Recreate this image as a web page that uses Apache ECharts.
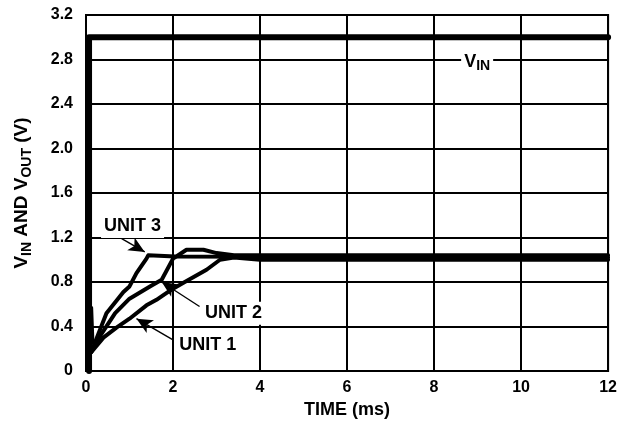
<!DOCTYPE html>
<html>
<head>
<meta charset="utf-8">
<script src="https://cdn.jsdelivr.net/npm/echarts@6/dist/echarts.min.js"></script>
<style>html,body{margin:0;padding:0;background:#fff}#c{width:620px;height:425px}</style>
</head>
<body>
<div id="c"></div>
<script>
// ---- data (time ms, volts) ----
const xTicks = [0, 2, 4, 6, 8, 10, 12];
const yTicks = [0, 0.4, 0.8, 1.2, 1.6, 2.0, 2.4, 2.8, 3.2];
const vin   = [[0.07, 0], [0.07, 3.0], [12, 3.0]];
const spike = [[0.1, 0.17], [0.13, 0.57], [0.16, 0.25]];
const unit1 = [[0.12, 0.17], [0.4, 0.3], [0.7, 0.39], [1.0, 0.47], [1.39, 0.59], [1.62, 0.64], [1.77, 0.68], [2.0, 0.74], [2.23, 0.79], [2.77, 0.91], [3.08, 1.0], [3.4, 1.02], [4.0, 1.0], [12, 1.0]];
const unit2 = [[0.12, 0.17], [0.3, 0.3], [0.67, 0.52], [1.0, 0.65], [1.47, 0.76], [1.74, 0.82], [2.0, 1.01], [2.31, 1.09], [2.7, 1.09], [3.0, 1.06], [3.4, 1.04], [12, 1.04]];
const unit3 = [[0.12, 0.17], [0.25, 0.3], [0.47, 0.52], [0.86, 0.71], [1.0, 0.76], [1.16, 0.88], [1.39, 1.01], [1.43, 1.04], [2.05, 1.03], [12, 1.02]];
// annotation labels: [text, x, y] and arrows: [fromX, fromY, toX, toY]
const labels = [['{n|UNIT 3}', 1.07, 1.30], ['{n|UNIT 2}', 3.39, 0.52], ['{n|UNIT 1}', 2.8, 0.23], ['{n|V}{s|IN}', 8.99, 2.78]];
const arrows = [[0.82, 1.19, 1.35, 1.07], [2.61, 0.58, 1.74, 0.80], [2.0, 0.28, 1.16, 0.47]];

const FONT = 'Liberation Sans, Arial, sans-serif';
const chart = echarts.init(document.getElementById('c'));
function line(data, w) {
  return { type: 'line', data: data, symbol: 'none', silent: true,
    lineStyle: { color: '#000', width: w, join: 'round', cap: 'round' } };
}
const richT = {
  n: { fontFamily: FONT, fontWeight: 'bold', fontSize: 18, color: '#000', lineHeight: 23, verticalAlign: 'middle' },
  s: { fontFamily: FONT, fontWeight: 'bold', fontSize: 14, color: '#000', lineHeight: 14, verticalAlign: 'bottom' }
};
const richA = {
  n: { fontFamily: FONT, fontWeight: 'bold', fontSize: 19, color: '#000', lineHeight: 24, verticalAlign: 'middle' },
  s: { fontFamily: FONT, fontWeight: 'bold', fontSize: 14, color: '#000', lineHeight: 14, verticalAlign: 'bottom' }
};
chart.setOption({
  animation: false,
  backgroundColor: '#fff',
  grid: { left: 86, right: 11, top: 15, bottom: 54, show: true, borderColor: '#000', borderWidth: 2, backgroundColor: 'transparent' },
  xAxis: {
    type: 'value', min: 0, max: 12, interval: 2,
    name: 'TIME (ms)', nameLocation: 'middle', nameGap: 30,
    nameTextStyle: { fontFamily: FONT, fontWeight: 'bold', fontSize: 18, color: '#000' },
    axisLine: { lineStyle: { color: '#000', width: 2 } },
    axisTick: { show: false },
    axisLabel: { margin: 9, fontFamily: FONT, fontWeight: 'bold', fontSize: 16, color: '#000',
      formatter: v => xTicks.includes(v) ? String(v) : '' },
    splitLine: { show: true, lineStyle: { color: '#000', width: 2 } }
  },
  yAxis: {
    type: 'value', min: 0, max: 3.2, interval: 0.4,
    name: '{n|V}{s|IN}{n| AND V}{s|OUT}{n| (V)}', nameLocation: 'middle', nameGap: 52, nameRotate: 90,
    nameTextStyle: { rich: richA },
    axisLine: { lineStyle: { color: '#000', width: 2 } },
    axisTick: { show: false },
    axisLabel: { margin: 13, fontFamily: FONT, fontWeight: 'bold', fontSize: 16, color: '#000',
      formatter: v => { const t = yTicks.find(k => Math.abs(k - v) < 1e-6); return t === undefined ? '' : (t === 0 ? '0' : t.toFixed(1)); } },
    splitLine: { show: true, lineStyle: { color: '#000', width: 2 } }
  },
  series: [
    line(vin, 6),
    line(spike, 3),
    line(unit1, 4),
    line(unit2, 4),
    line(unit3, 4),
    { type: 'line', data: [], symbol: 'none', silent: true,
      markLine: {
        silent: true, animation: false,
        label: { show: false },
        lineStyle: { color: '#000', width: 1.4, type: 'solid' },
        data: arrows.map(a => [
          { coord: [a[0], a[1]], symbol: 'none' },
          { coord: [a[2], a[3]], symbol: 'arrow', symbolSize: [11, 16] }
        ])
      },
      markPoint: {
        silent: true, animation: false,
        symbol: 'rect', symbolSize: 0,
        data: labels.map(l => ({
          coord: [l[1], l[2]], value: l[0],
          label: { show: true, position: 'inside', formatter: l[0], rich: richT,
            backgroundColor: '#fff', padding: [0, 3, 0, 3] }
        }))
      }
    }
  ]
});
</script>
</body>
</html>
